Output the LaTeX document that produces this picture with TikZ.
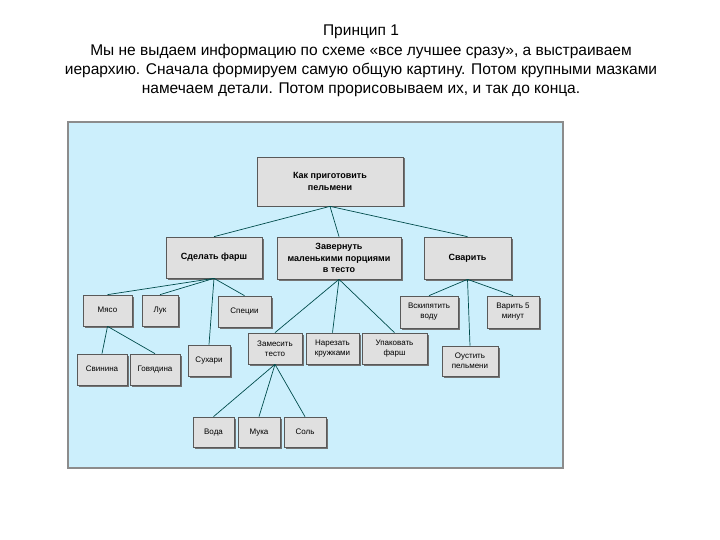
\documentclass[tikz,border=0pt]{standalone}
\usepackage{fontspec}
\setmainfont{Liberation Sans}
\begin{document}
\begin{tikzpicture}[x=1pt,y=-1pt,
  bx/.style={draw=black!65,fill=black!12,line width=0.7pt,align=center,inner sep=0pt,
    font=\fontsize{8}{10}\selectfont},
  big/.style={font=\fontsize{9}{11.5}\selectfont\bfseries},
  ln/.style={draw=teal!60!black,line width=0.7pt}]
\useasboundingbox (0,0) rectangle (720,540);
\fill[white] (0,0) rectangle (720,540);
\node[align=center,font=\fontsize{15.5}{19.3}\selectfont] (title) at (361,61)
 {Принцип 1\\Мы не выдаем информацию по схеме «все лучшее сразу», а выстраиваем\\иерархию. Сначала формируем самую общую картину. Потом крупными мазками\\намечаем детали. Потом прорисовываем их, и так до конца.};
\draw[fill=cyan!20,draw=black!45,line width=1.2pt] (68,122) rectangle (563,468);
\newcommand\bxn[6]{\fill[black!55] (#2+1.5,#3+1.5) rectangle (#4+1.5,#5+1.5);
  \node[bx,#6,minimum width=#4-#2,minimum height=#5-#3] (#1) at ({(#2+#4)/2},{(#3+#5)/2}) }
\newcommand\bxt[1]{\strut#1\strut}
\bxn{top}{257}{157}{403}{206}{big}{Как приготовить\\пельмени};
\bxn{farsh}{166}{237}{262}{278}{big}{\strut Сделать фарш};
\bxn{wrap}{277}{237}{401}{279}{big}{Завернуть\\маленькими порциями\\в тесто};
\bxn{boil}{424}{237}{511}{279}{big}{\strut Сварить};
\bxn{meat}{83}{295}{132}{326}{}{\strut Мясо};
\bxn{onion}{142}{295}{178}{326}{}{\strut Лук};
\bxn{spice}{218}{296}{271}{327}{}{\strut Специи};
\bxn{pork}{77}{354}{127}{385}{}{\strut Свинина};
\bxn{beef}{130}{354}{180}{385}{}{\strut Говядина};
\bxn{crumb}{188}{345}{230}{376}{}{\strut Сухари};
\bxn{knead}{248}{333}{302}{364}{}{Замесить\\тесто};
\bxn{cut}{306}{333}{359}{364}{}{Нарезать\\кружками};
\bxn{pack}{362}{333}{427}{364}{}{Упаковать\\фарш};
\bxn{water}{400}{296}{458}{328}{}{Вскипятить\\воду};
\bxn{cook}{487}{296}{539}{328}{}{Варить 5\\минут};
\bxn{drop}{442}{346}{498}{376}{}{Оустить\\пельмени};
\bxn{wat}{193}{417}{234}{447}{}{\strut Вода};
\bxn{flour}{238}{417}{280}{447}{}{\strut Мука};
\bxn{salt}{284}{417}{326}{447}{}{\strut Соль};
\foreach \p/\c in {top/farsh,top/wrap,top/boil,farsh/meat,farsh/onion,farsh/spice,farsh/crumb,
  meat/pork,meat/beef,wrap/knead,wrap/cut,wrap/pack,boil/water,boil/cook,boil/drop,
  knead/wat,knead/flour,knead/salt}
  \draw[ln] (\p.south) -- (\c.north);
\end{tikzpicture}
\end{document}
